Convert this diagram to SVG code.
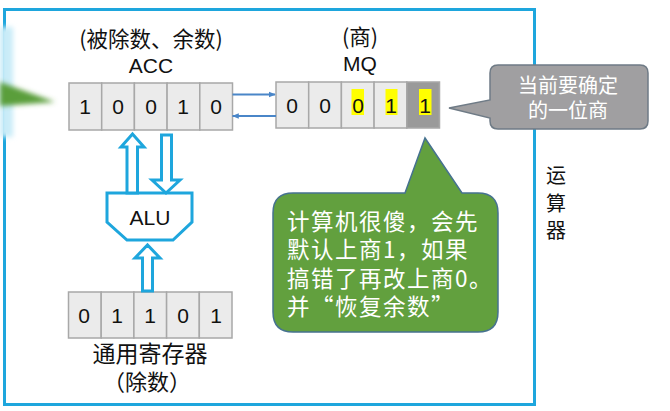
<svg xmlns="http://www.w3.org/2000/svg" width="670" height="411" viewBox="0 0 670 411">
<style>
.t{font-family:"Noto Sans CJK SC","Noto Sans","Liberation Sans",sans-serif;fill:#111}
.d{font-family:"Liberation Sans","Noto Sans",sans-serif;font-size:21px;fill:#111;text-anchor:middle}
.cell{fill:#EBEBEB;stroke:#A8A8A8;stroke-width:1.5}
.blk{fill:#fff;stroke:#1EA6DD;stroke-width:3;stroke-linejoin:miter}
.w{font-family:"Noto Sans CJK SC","Noto Sans",sans-serif;fill:#fff}
.hl{fill:#FFFF00}
</style>
<defs>
<marker id="ah" viewBox="0 0 10 10" refX="9" refY="5" markerWidth="7" markerHeight="7" orient="auto" markerUnits="userSpaceOnUse">
<path d="M0,1 L10,5 L0,9 Z" fill="#4A86C8"/>
</marker>
<filter id="bl" x="-50%" y="-50%" width="200%" height="200%"><feGaussianBlur stdDeviation="2.5"/></filter>
</defs>
<rect width="670" height="411" fill="#fff"/>
<!-- outer box -->
<rect id="frame" x="4.5" y="9.5" width="530" height="395" fill="none" stroke="#1EA6DD" stroke-width="3"/>
<!-- blurred left artifact -->
<g id="left-arrow">
<rect x="0" y="27" width="13" height="110" fill="#C9ECF8" filter="url(#bl)"/>
<polygon points="0,82 0,106 55,102" fill="#5A9E3A" filter="url(#bl)"/>
</g>
<!-- ACC -->
<g id="acc">
<text class="t" x="151" y="47" font-size="21.5" text-anchor="middle">(被除数、余数)</text>
<text class="d" x="151" y="73" font-size="20">ACC</text>
<rect class="cell" x="69" y="83" width="32.7" height="47"/>
<rect class="cell" x="101.7" y="83" width="32.7" height="47"/>
<rect class="cell" x="134.4" y="83" width="32.7" height="47"/>
<rect class="cell" x="167.1" y="83" width="32.7" height="47"/>
<rect class="cell" x="199.8" y="83" width="32.7" height="47"/>
<text class="d" x="85" y="114">1</text>
<text class="d" x="118" y="114">0</text>
<text class="d" x="151" y="114">0</text>
<text class="d" x="183" y="114">1</text>
<text class="d" x="216" y="114">0</text>
</g>
<!-- MQ -->
<g id="mq">
<text class="t" x="360" y="45" font-size="21.5" text-anchor="middle">(商)</text>
<text class="d" x="360" y="71" font-size="20">MQ</text>
<rect class="cell" x="276" y="82" width="32.7" height="46"/>
<rect class="cell" x="308.7" y="82" width="32.7" height="46"/>
<rect class="cell" x="341.4" y="82" width="32.7" height="46"/>
<rect class="cell" x="374.1" y="82" width="32.7" height="46"/>
<rect x="406.8" y="82" width="32.7" height="46" fill="#9A9A9A" stroke="#A8A8A8" stroke-width="1.5"/>
<rect class="hl" x="351.5" y="89" width="12.5" height="26"/>
<rect class="hl" x="385.5" y="89" width="12" height="26"/>
<rect class="hl" x="419" y="89" width="12.5" height="26"/>
<text class="d" x="292" y="113">0</text>
<text class="d" x="325" y="113">0</text>
<text class="d" x="358" y="113">0</text>
<text class="d" x="391" y="113">1</text>
<text class="d" x="425" y="113">1</text>
</g>
<!-- ALU -->
<g id="alu">
<path class="blk" d="M107,193 L192,193 L192,222 L173,240 L127,240 L107,222 Z"/>
<text class="d" x="150" y="225" font-size="20">ALU</text>
</g>
<!-- general register -->
<g id="reg">
<rect class="cell" x="68.5" y="292" width="32.7" height="46"/>
<rect class="cell" x="101.2" y="292" width="32.7" height="46"/>
<rect class="cell" x="133.9" y="292" width="32.7" height="46"/>
<rect class="cell" x="166.6" y="292" width="32.7" height="46"/>
<rect class="cell" x="199.3" y="292" width="32.7" height="46"/>
<text class="d" x="84" y="323">0</text>
<text class="d" x="117" y="323">1</text>
<text class="d" x="150" y="323">1</text>
<text class="d" x="183" y="323">0</text>
<text class="d" x="216" y="323">1</text>
<text class="t" x="150" y="362" font-size="23" text-anchor="middle">通用寄存器</text>
<text class="t" x="147" y="390" font-size="22" text-anchor="middle">（除数）</text>
</g>
<!-- connectors -->
<g id="connectors">
<line x1="232.5" y1="94.5" x2="275" y2="94.5" stroke="#4A86C8" stroke-width="1.8" marker-end="url(#ah)"/>
<line x1="276" y1="116" x2="232.5" y2="116" stroke="#4A86C8" stroke-width="1.8" marker-end="url(#ah)"/>
<path class="blk" d="M127,193 L127,147 L121,147 L132.5,134 L144,147 L137.5,147 L137.5,193 Z"/>
<path class="blk" d="M161.5,135 L171.5,135 L171.5,180 L180,180 L166,193 L152,180 L161.5,180 Z"/>
<path class="blk" d="M142.5,291 L142.5,258 L135,258 L147.5,245 L160,258 L152.5,258 L152.5,291 Z"/>
</g>
<!-- gray callout -->
<g id="callout-gray">
<path d="M498,65 L640,65 Q648,65 648,73 L648,121 Q648,129 640,129 L498,129 Q490,129 490,121 L490,118 L449,108 L490,100 L490,73 Q490,65 498,65 Z" fill="#A09FA1" stroke="#6F7B86" stroke-width="1.5"/>
<text class="w" x="568" y="93" font-size="20" text-anchor="middle">当前要确定</text>
<text class="w" x="568" y="118" font-size="20" text-anchor="middle">的一位商</text>
</g>
<!-- green callout -->
<g id="callout-green">
<path d="M293,193 L405,193 L425,138 L462,193 L478,193 Q498,193 498,213 L498,312 Q498,332 478,332 L293,332 Q273,332 273,312 L273,213 Q273,193 293,193 Z" fill="#62A03E" stroke="#46728F" stroke-width="1.5"/>
<text class="w" x="287" y="230" font-size="22.5" letter-spacing="1.5">计算机很傻，会先</text>
<text class="w" x="287" y="258" font-size="22.5" letter-spacing="1.5">默认上商1，如果</text>
<text class="w" x="287" y="287" font-size="22.5" letter-spacing="1.5">搞错了再改上商0。</text>
<text class="w" x="287" y="315" font-size="22.5" letter-spacing="1.5">并“恢复余数”</text>
</g>
<!-- side label -->
<g id="label-alu-unit">
<text class="t" x="556" y="183" font-size="20" text-anchor="middle">运</text>
<text class="t" x="556" y="211" font-size="20" text-anchor="middle">算</text>
<text class="t" x="556" y="238" font-size="20" text-anchor="middle">器</text>
</g>
</svg>
